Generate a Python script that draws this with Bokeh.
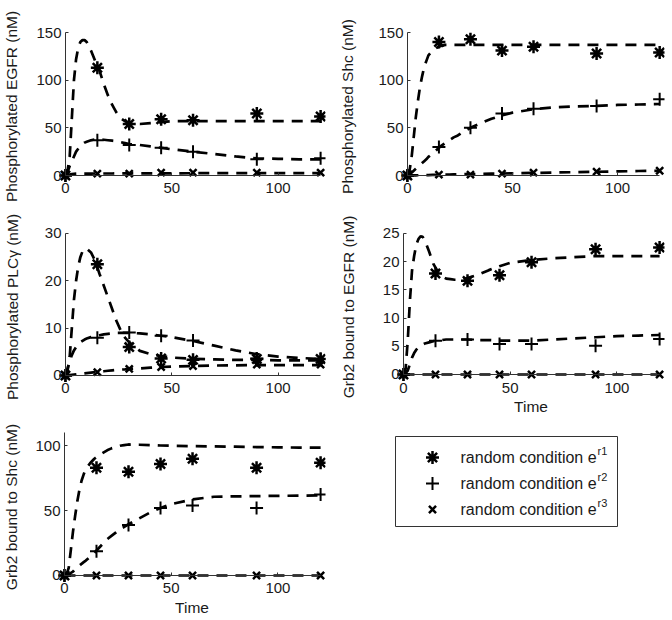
from bokeh.plotting import figure
from bokeh.models import Range1d, FixedTicker, LinearAxis
from bokeh.layouts import column, row
from bokeh.embed import file_html
from bokeh.resources import INLINE
from bokeh.core.properties import value

# ---------------- data ----------------
t_data = [0, 15, 30, 45, 60, 90, 120]
t_fit = [0, 1, 2, 3, 4, 5, 6, 7, 8, 9, 10,
         12, 14, 16, 18, 20, 22, 24, 26, 28, 30,
         35, 40, 45, 50,
         60, 70, 80, 90, 100, 110, 120]

# Phosphorylated EGFR
egfr_r1 = [0, 113, 54, 59, 58, 65, 62]
egfr_r2 = [0, 37, 32, 29, 25, 17, 18]
egfr_r3 = [0, 2, 2, 3, 3, 3, 3]
egfr_fit_r1 = [0, 5, 20, 60, 100, 122, 134, 140, 142, 142, 140,
               131, 120, 110, 96, 84, 74, 66, 60, 57, 55,
               54, 55, 56, 57,
               57, 57, 57, 57, 57, 57, 57]
egfr_fit_r2 = [0, 4, 10, 15, 20, 25, 28, 31, 33, 34.5, 35.5,
               37, 38, 38, 37.5, 37, 36.5, 36, 35, 34, 33,
               32, 30.5, 29, 27.5,
               25, 22.5, 20, 18, 17.5, 17, 17]
egfr_fit_r3 = [0, 0.5, 1, 1.4, 1.7, 1.9, 2, 2, 2, 2, 2,
               2, 2.1, 2.1, 2.1, 2.1, 2.1, 2.2, 2.2, 2.2, 2.2,
               2.3, 2.3, 2.3, 2.3,
               2.4, 2.4, 2.4, 2.5, 2.5, 2.5, 2.5]

# Phosphorylated Shc
shc_r1 = [0, 140, 143, 131, 135, 128, 129]
shc_r2 = [0, 30, 50, 65, 70, 73, 80]
shc_r3 = [0, 1, 1, 2, 3, 4, 5]
shc_fit_r1 = [0, 5, 19, 40, 61, 78, 93, 104, 114, 120, 126,
              131, 134, 136, 137, 137, 137, 137, 137, 137, 137,
              137, 137, 137, 137,
              137, 137, 137, 137, 137, 137, 137]
shc_fit_r2 = [0, 1.5, 3, 5, 7, 9, 11, 13, 15, 17, 19.5,
              23, 27, 31, 34, 37, 40, 42, 45, 47.5, 50,
              55, 59.5, 63, 66,
              69.5, 71.5, 72.5, 73, 74, 74.5, 75]
shc_fit_r3 = [0, 0.05, 0.1, 0.15, 0.2, 0.25, 0.3, 0.35, 0.4, 0.45, 0.5,
              0.6, 0.7, 0.8, 0.9, 1, 1.1, 1.2, 1.3, 1.4, 1.5,
              1.7, 1.9, 2.1, 2.3,
              2.7, 3.1, 3.5, 3.9, 4.3, 4.7, 5]

# Phosphorylated PLCgamma
plc_r1 = [0, 23.5, 6, 3.6, 3.3, 3.5, 3.5]
plc_r2 = [0, 8, 9.1, 8.4, 7.4, 3.6, 3.5]
plc_r3 = [0, 0.7, 1.4, 1.8, 2, 2.3, 2.3]
plc_fit_r1 = [0, 1, 4, 10, 16, 20, 23, 25, 26.2, 26.8, 26.8,
              26, 24.2, 21.5, 19, 16.5, 14, 11.5, 9.5, 8, 7,
              5.2, 4.5, 4.1, 3.8,
              3.5, 3.4, 3.3, 3.3, 3.2, 3.2, 3.2]
plc_fit_r2 = [0, 1.5, 3, 4.3, 5.3, 6, 6.6, 7, 7.3, 7.6, 7.8,
              8.1, 8.3, 8.5, 8.7, 8.8, 8.9, 9, 9, 9, 9,
              8.9, 8.7, 8.4, 8.1,
              7.3, 6.3, 5.3, 4.5, 4, 3.7, 3.5]
plc_fit_r3 = [0, 0.05, 0.1, 0.15, 0.2, 0.25, 0.3, 0.35, 0.4, 0.45, 0.5,
              0.6, 0.7, 0.8, 0.9, 1, 1.1, 1.2, 1.25, 1.3, 1.4,
              1.5, 1.65, 1.8, 1.9,
              2, 2.1, 2.15, 2.2, 2.2, 2.2, 2.2]

# Grb2 bound to EGFR
ge_r1 = [0, 17.9, 16.6, 17.6, 19.9, 22.2, 22.5]
ge_r2 = [0, 6, 6.2, 5.4, 5.4, 5.1, 6.3]
ge_r3 = [0, 0, 0, 0, 0, 0, 0]
ge_fit_r1 = [0, 1, 6, 13, 18.4, 21, 23, 24, 24.5, 24.4, 23.8,
             21.8, 19.6, 18.3, 17.4, 17, 16.9, 16.8, 16.8, 16.9, 17.1,
             17.7, 18.5, 19.2, 19.8,
             20.3, 20.6, 20.8, 21, 21, 21, 21]
ge_fit_r2 = [0, 0.3, 0.7, 1.8, 3, 3.8, 4.4, 4.8, 5.1, 5.3, 5.5,
             5.7, 5.9, 6, 6.1, 6.2, 6.2, 6.2, 6.2, 6.2, 6.2,
             6.1, 6.1, 6, 6,
             6, 6.2, 6.4, 6.6, 6.8, 6.9, 7]
ge_fit_r3 = [0, 0, 0, 0, 0, 0, 0, 0, 0, 0, 0,
             0, 0, 0, 0, 0, 0, 0, 0, 0, 0,
             0, 0, 0, 0,
             0, 0, 0, 0, 0, 0, 0]

# Grb2 bound to Shc
gs_r1 = [0, 83, 80, 86, 90, 83, 87]
gs_r2 = [0, 18.6, 39, 52, 54, 52, 62.5]
gs_r3 = [0, 0, 0, 0, 0, 0, 0]
gs_fit_r1 = [0, 1, 6, 20, 34, 46, 57, 66, 73, 78, 82,
             86.5, 90, 92.5, 94.5, 96.5, 98, 99, 100, 100.5, 101,
             100.8, 100.5, 100.2, 100,
             99.7, 99.5, 99.3, 99, 98.8, 98.6, 98.5]
gs_fit_r2 = [0, 0.5, 1.2, 2, 3, 5, 6.3, 7.6, 9, 10.3, 11.5,
             14.5, 17.5, 21, 24.5, 28, 30.5, 33, 35.5, 37.5, 39.5,
             44, 48.5, 52, 55,
             58.7, 60.7, 61, 61.2, 61.4, 61.6, 61.7]
gs_fit_r3 = [0, 0, 0, 0, 0, 0, 0, 0, 0, 0, 0,
             0, 0, 0, 0, 0, 0, 0, 0, 0, 0,
             0, 0, 0, 0,
             0, 0, 0, 0, 0, 0, 0]

x_ticks = [0, 50, 100]
legend_labels = ["random condition e", "random condition e", "random condition e"]
legend_sups = ["r1", "r2", "r3"]
legend_markers = ["asterisk", "cross", "x"]

# ---------------- styling ----------------
FONT = "Liberation Sans"
INK = "#1a1a1a"
AXC = "#333333"
X_RANGE = (-2.8, 122.3)


def style_label_axis(ax, standoff):
    ax.axis_line_color = None
    ax.major_tick_line_color = None
    ax.minor_tick_line_color = None
    ax.major_tick_in = 0
    ax.major_tick_out = 0
    ax.minor_tick_in = 0
    ax.minor_tick_out = 0
    ax.major_label_text_font = FONT
    ax.major_label_text_font_size = "15px"
    ax.major_label_text_color = INK
    ax.axis_label_text_font = FONT
    ax.axis_label_text_font_size = "15.5px"
    ax.axis_label_text_font_style = "normal"
    ax.axis_label_text_color = INK
    ax.axis_label_standoff = standoff


def line_axis(bounds, ticks):
    ax = LinearAxis(fixed_location=0, bounds=bounds, ticker=FixedTicker(ticks=ticks))
    ax.axis_line_color = AXC
    ax.axis_line_width = 1
    ax.major_tick_in = 3
    ax.major_tick_out = 0
    ax.major_tick_line_color = AXC
    ax.minor_tick_line_color = None
    ax.major_label_text_color = None
    return ax


def panel(fits, obs, yr, ymax, yticks, ylabel, w, h, mbl, mbr, mbt, mbb,
          ylab_standoff, xlabel=None, xlab_standoff=2):
    p = figure(width=w, height=h, x_range=Range1d(*X_RANGE), y_range=Range1d(*yr),
               output_backend="svg", toolbar_location=None,
               min_border_left=mbl, min_border_right=mbr,
               min_border_top=mbt, min_border_bottom=mbb,
               background_fill_color="white", border_fill_color="white")
    p.grid.visible = False
    p.outline_line_color = None
    for ys in fits:
        p.line(t_fit, ys, line_color="black", line_width=2.7, line_dash="11 8")
    r1, r2, r3 = obs
    p.scatter(t_data, r1, marker="asterisk", size=13, line_color="black", line_width=2.5)
    p.scatter(t_data, r2, marker="cross", size=13, line_color="black", line_width=2)
    p.scatter(t_data, r3, marker="x", size=10, line_color="black", line_width=2.5)

    # label-carrying axes at the frame edges
    xa = p.xaxis[0]
    ya = p.yaxis[0]
    xa.ticker = FixedTicker(ticks=x_ticks)
    ya.ticker = FixedTicker(ticks=yticks)
    style_label_axis(xa, xlab_standoff)
    style_label_axis(ya, ylab_standoff)
    xa.major_label_standoff = 0
    ya.major_label_standoff = -2
    ya.axis_label = ylabel
    if xlabel:
        xa.axis_label = xlabel

    # axis lines through the data origin (MATLAB box-off style)
    p.add_layout(line_axis((0, 120), x_ticks), "below")
    p.add_layout(line_axis((0, ymax), yticks), "left")
    return p


# row 1: 0..205, row 2: 205..419, row 3: 419..620
p1 = panel([egfr_fit_r1, egfr_fit_r2, egfr_fit_r3], [egfr_r1, egfr_r2, egfr_r3],
           (-7.34, 152.1), 150, [0, 50, 100, 150], "Phosphorylated EGFR (nM)",
           336, 205, 55, 11, 30, 23, 13)
p2 = panel([shc_fit_r1, shc_fit_r2, shc_fit_r3], [shc_r1, shc_r2, shc_r3],
           (-7.34, 152.1), 150, [0, 50, 100, 150], "Phosphorylated Shc (nM)",
           336, 205, 61, 8, 30, 23, 19)
p3 = panel([plc_fit_r1, plc_fit_r2, plc_fit_r3], [plc_r1, plc_r2, plc_r3],
           (-1.48, 30.42), 30, [0, 10, 20, 30], "Phosphorylated PLC\u03b3 (nM)",
           336, 214, 55, 11, 26, 37, 21)
p4 = panel([ge_fit_r1, ge_fit_r2, ge_fit_r3], [ge_r1, ge_r2, ge_r3],
           (-1.42, 25.35), 25, [0, 5, 10, 15, 20, 25], "Grb2 bound to EGFR (nM)",
           336, 214, 61, 8, 26, 37, 23, xlabel="Time", xlab_standoff=2)
p5 = panel([gs_fit_r1, gs_fit_r2, gs_fit_r3], [gs_r1, gs_r2, gs_r3],
           (-5.4, 111.0), 110, [0, 50, 100], "Grb2 bound to Shc (nM)",
           336, 201, 55, 11, 12, 38, 12, xlabel="Time", xlab_standoff=3)

# ---------------- legend (frame in page-pixel units) ----------------
leg = figure(width=336, height=201, x_range=Range1d(386, 664), y_range=Range1d(582, 431),
             output_backend="svg", toolbar_location=None,
             min_border_left=50, min_border_right=8, min_border_top=12, min_border_bottom=38,
             background_fill_color="white", border_fill_color="white")
leg.axis.visible = False
leg.grid.visible = False
leg.outline_line_color = None
leg.quad(left=[395], right=[617], top=[436], bottom=[526],
         fill_color="white", line_color=AXC, line_width=1)
row_y = [457, 483, 509]
leg.scatter([432, 432, 432], row_y, marker=legend_markers,
            size=[13, 13, 10], line_width=[2.5, 2, 2.5], line_color="black")
leg.text([460, 460, 460], row_y, text=legend_labels, text_font=value(FONT),
         text_font_size="16px", text_baseline="middle", text_align="left", text_color=INK)
leg.text([597, 597, 597], [y - 7 for y in row_y], text=legend_sups, text_font=value(FONT),
         text_font_size="11px", text_baseline="middle", text_align="left", text_color=INK)

layout = column(row(p1, p2), row(p3, p4), row(p5, leg))

with open("out.html", "w") as f:
    f.write(file_html(layout, INLINE, "chart"))
